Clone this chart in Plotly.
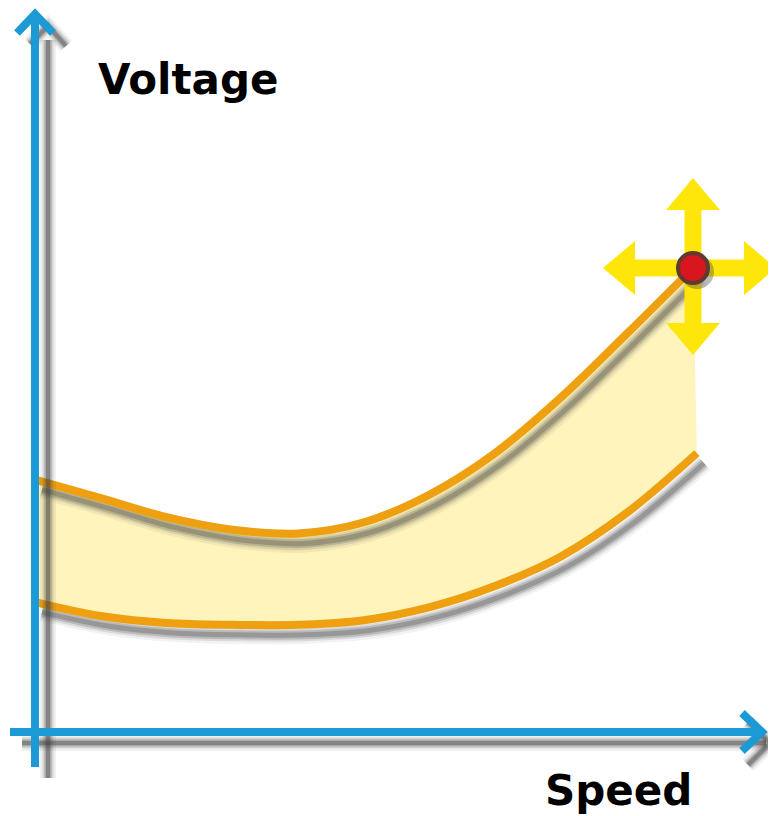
import plotly.graph_objects as go

# ---------------- data (schematic units) ----------------
speed_upper = [0, 10, 20, 30, 40, 50, 60, 70, 80, 90, 100]
volt_upper = [54.4, 50.4, 46.3, 43.6, 42.8, 45.2, 51.2, 60.2, 72.2, 85.9, 100.0]
speed_lower = [0, 10, 20, 30, 40, 50, 60, 70, 80, 90, 100.6]
volt_lower = [28.0, 25.0, 23.5, 23.1, 23.1, 24.1, 26.9, 31.5, 37.9, 47.3, 60.1]
x_label = "Speed"
y_label = "Voltage"

# ---------------- geometry (screen pixels) ----------------
PAGE_OFF = 8                      # default body margin of the html page
W, H = 776 - PAGE_OFF, 816 - PAGE_OFF
OX, OY = 35, 732                  # screen pixel position of the origin
PPX, PPY = 6.58, 4.64             # pixels per unit
x_range = [(PAGE_OFF - OX) / PPX, (PAGE_OFF + W - OX) / PPX]
y_range = [(OY - (PAGE_OFF + H)) / PPY, (OY - PAGE_OFF) / PPY]


def P(x, y):
    return (x - PAGE_OFF) / W, 1 - (y - PAGE_OFF) / H


BLUE = "#1C9AD6"
ORANGE = "#EEA010"
FILL = "#FFF4BC"
YELLOW = "#FFE60A"

fig = go.Figure()

# fill band between curves
fig.add_trace(go.Scatter(x=speed_lower, y=volt_lower, mode="lines",
                         line=dict(width=0, shape="spline", color=FILL),
                         hoverinfo="skip", showlegend=False))
fig.add_trace(go.Scatter(x=speed_upper, y=volt_upper, mode="lines", fill="tonexty",
                         fillcolor=FILL, line=dict(width=0, shape="spline", color=FILL),
                         hoverinfo="skip", showlegend=False))

# curve shadows (offset, blurred)
dx, dy = 7 / PPX, -10 / PPY
for w, a in [(18, 0.07), (13, 0.13), (9, 0.22), (5, 0.3)]:
    for xs, ys in [(speed_upper, volt_upper), (speed_lower, volt_lower)]:
        fig.add_trace(go.Scatter(x=[v + dx for v in xs], y=[v + dy for v in ys],
                                 mode="lines",
                                 line=dict(width=w, shape="spline",
                                           color=f"rgba(70,70,70,{a})"),
                                 hoverinfo="skip", showlegend=False))

# curves
for xs, ys in [(speed_upper, volt_upper), (speed_lower, volt_lower)]:
    fig.add_trace(go.Scatter(x=xs, y=ys, mode="lines",
                             line=dict(width=8, shape="spline", color=ORANGE),
                             hoverinfo="skip", showlegend=False))

shapes = []


def line_shape(x0, y0, x1, y1, color, width):
    a = P(x0, y0)
    b = P(x1, y1)
    return dict(type="line", xref="paper", yref="paper", x0=a[0], y0=a[1],
                x1=b[0], y1=b[1], line=dict(color=color, width=width), layer="above")


def path_shape(pts, color, width):
    s = ""
    for i, (x, y) in enumerate(pts):
        px, py = P(x, y)
        s += ("M" if i == 0 else " L") + f" {px:.5f},{py:.5f}"
    return dict(type="path", xref="paper", yref="paper", path=s,
                line=dict(color=color, width=width), layer="above")


# axis shadows
for w, a in [(16, 0.08), (11, 0.16), (7, 0.28), (4, 0.35)]:
    col = f"rgba(60,60,60,{a})"
    shapes.append(line_shape(OX + 13, 40, OX + 13, 778, col, w))
    shapes.append(line_shape(22, OY + 11, 766, OY + 11, col, w))
    shapes.append(path_shape([(748, 722), (770, 743), (748, 765)], col, w))
    shapes.append(path_shape([(30, 44), (48, 26), (66, 46)], col, w))

# blue axes
shapes.append(line_shape(OX, 767, OX, 16, BLUE, 8))
shapes.append(line_shape(10, OY, 760, OY, BLUE, 8))
shapes.append(path_shape([(17, 33), (OX, 14), (53, 33)], BLUE, 8))
shapes.append(path_shape([(742, 713), (762, OY), (742, 751)], BLUE, 8))

# yellow move arrows anchored at the curve end point
ax_, ay_ = speed_upper[-1], volt_upper[-1]
t, hw, hl = 8.5, 27, 32
Lr, Lu, Ll, Ld = 83, 90, 90, 87
pts = [(t, -t), (Lr - hl, -t), (Lr - hl, -hw), (Lr, 0), (Lr - hl, hw), (Lr - hl, t), (t, t),
       (t, Lu - hl), (hw, Lu - hl), (0, Lu), (-hw, Lu - hl), (-t, Lu - hl), (-t, t),
       (-(Ll - hl), t), (-(Ll - hl), hw), (-Ll, 0), (-(Ll - hl), -hw), (-(Ll - hl), -t), (-t, -t),
       (-t, -(Ld - hl)), (-hw, -(Ld - hl)), (0, -Ld), (hw, -(Ld - hl)), (t, -(Ld - hl))]
path = "M " + " L ".join(f"{x},{y}" for x, y in pts) + " Z"
shapes.append(dict(type="path", xref="x", yref="y", xsizemode="pixel", ysizemode="pixel",
                   xanchor=ax_, yanchor=ay_, path=path, fillcolor=YELLOW,
                   line=dict(width=0), layer="above"))

# dot shadow + dot
shapes.append(dict(type="circle", xref="x", yref="y", xsizemode="pixel", ysizemode="pixel",
                   xanchor=ax_, yanchor=ay_, x0=-13, x1=21, y0=-21, y1=13,
                   fillcolor="rgba(60,60,60,0.35)", line=dict(width=0), layer="above"))
shapes.append(dict(type="circle", xref="x", yref="y", xsizemode="pixel", ysizemode="pixel",
                   xanchor=ax_, yanchor=ay_, x0=-15, x1=15, y0=-15, y1=15,
                   fillcolor="#D8161F", line=dict(width=4, color="#5E3A30"), layer="above"))

annotations = [
    dict(text=f"<b>{y_label}</b>", xref="paper", yref="paper", x=P(96, 0)[0], y=P(0, 80)[1],
         xanchor="left", yanchor="middle", showarrow=False,
         font=dict(family="DejaVu Sans", size=42, color="black")),
    dict(text=f"<b>{x_label}</b>", xref="paper", yref="paper", x=P(543, 0)[0], y=P(0, 790)[1],
         xanchor="left", yanchor="middle", showarrow=False,
         font=dict(family="DejaVu Sans", size=42, color="black")),
]

fig.update_layout(
    width=W, height=H, margin=dict(l=0, r=0, t=0, b=0),
    paper_bgcolor="white", plot_bgcolor="white",
    xaxis=dict(range=x_range, visible=False, fixedrange=True),
    yaxis=dict(range=y_range, visible=False, fixedrange=True),
    shapes=shapes, annotations=annotations, showlegend=False,
)

fig.write_html("out.html")
